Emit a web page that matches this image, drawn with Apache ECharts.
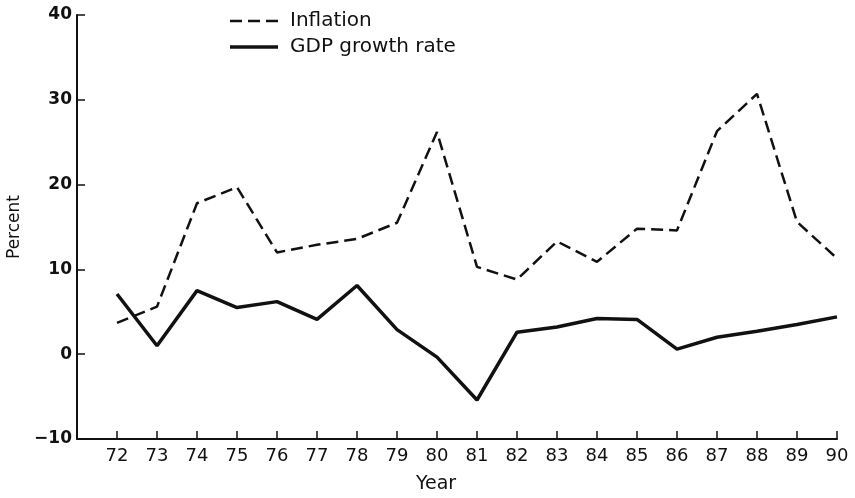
<!DOCTYPE html>
<html><head><meta charset="utf-8">
<script src="https://cdn.jsdelivr.net/npm/echarts@6/dist/echarts.min.js"></script>
<style>html,body{margin:0;padding:0;background:#fff}#c{width:855px;height:498px}</style>
</head><body><div id="c"></div>
<script>
const years = [72,73,74,75,76,77,78,79,80,81,82,83,84,85,86,87,88,89,90];
const inflation = [3.7,5.6,17.8,19.7,12.0,12.9,13.6,15.5,26.2,10.3,8.8,13.3,10.9,14.8,14.6,26.3,30.7,15.6,11.3];
const gdp = [7.1,1.0,7.5,5.5,6.2,4.1,8.1,2.9,-0.35,-5.4,2.6,3.2,4.2,4.1,0.6,2.0,2.7,3.5,4.4];
const yTicks = [-10,0,10,20,30,40];
const seriesNames = ['Inflation','GDP growth rate'];

const font = '"DejaVu Sans", sans-serif';
const ink = '#111';
const chart = echarts.init(document.getElementById('c'), null, {renderer:'canvas'});
chart.setOption({
  animation:false,
  backgroundColor:'#fff',
  grid:{left:77,right:18,top:15,bottom:59,containLabel:false,outerBoundsMode:'none'},
  legend:{show:false},
  graphic:[
    {type:'line',shape:{x1:230,y1:21,x2:278,y2:21},style:{stroke:ink,lineWidth:2.5,lineDash:[12,6]}},
    {type:'text',x:290,y:21,style:{text:seriesNames[0],font:'20px "DejaVu Sans", sans-serif',fill:ink,verticalAlign:'middle'}},
    {type:'line',shape:{x1:230,y1:47,x2:278,y2:47},style:{stroke:ink,lineWidth:3.5}},
    {type:'text',x:290,y:47,style:{text:seriesNames[1],font:'20px "DejaVu Sans", sans-serif',fill:ink,verticalAlign:'middle'}}
  ],
  xAxis:{
    type:'value', min:71, max:90, interval:1,
    name:'Year', nameLocation:'middle', nameGap:36,
    nameTextStyle:{fontFamily:font,fontSize:19,color:ink,padding:[0,42,0,0]},
    axisLine:{show:true,onZero:false,lineStyle:{color:ink,width:2}},
    axisTick:{show:true,inside:true,length:8,lineStyle:{color:ink,width:1.5}},
    axisLabel:{fontFamily:font,fontSize:18,color:ink,margin:8,
      formatter:v=> years.indexOf(v)>=0 ? String(v) : ''},
    splitLine:{show:false}
  },
  yAxis:{
    type:'value', min:yTicks[0], max:yTicks[yTicks.length-1], interval:10,
    name:'Percent', nameLocation:'middle', nameGap:52, nameRotate:90,
    nameTextStyle:{fontFamily:font,fontSize:17,color:ink},
    axisLine:{show:true,onZero:false,lineStyle:{color:ink,width:2}},
    axisTick:{show:true,inside:true,length:8,lineStyle:{color:ink,width:1.5}},
    axisLabel:{fontFamily:font,fontSize:17,fontWeight:'bold',color:ink,margin:5,
      formatter:v=> v<0 ? '\u2212'+Math.abs(v) : String(v)},
    splitLine:{show:false}
  },
  series:[
    {name:seriesNames[0],type:'line',symbol:'none',
     data:years.map((y,i)=>[y,inflation[i]]),
     lineStyle:{color:ink,width:2.5,type:[12,6]},itemStyle:{color:ink}},
    {name:seriesNames[1],type:'line',symbol:'none',
     data:years.map((y,i)=>[y,gdp[i]]),
     lineStyle:{color:ink,width:3.5},itemStyle:{color:ink}}
  ]
});
</script></body></html>
